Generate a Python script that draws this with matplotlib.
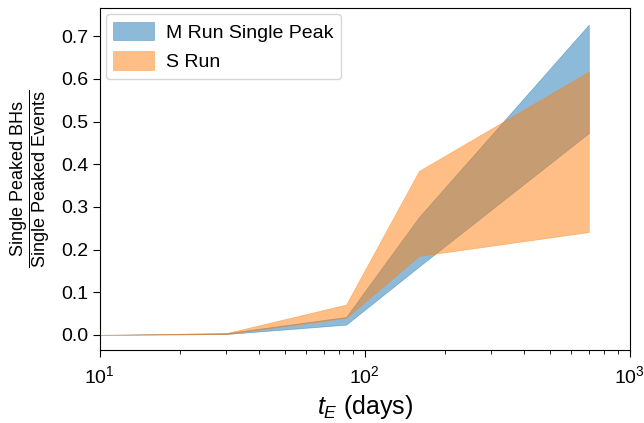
import numpy as np
import matplotlib
matplotlib.use('Agg')
import matplotlib.pyplot as plt

plt.rcParams['font.family'] = ['Liberation Sans', 'DejaVu Sans']
plt.rcParams['mathtext.fontset'] = 'custom'
plt.rcParams['mathtext.rm'] = 'Liberation Sans'
plt.rcParams['mathtext.it'] = 'Liberation Sans:italic'

# timescales (days)
t_e = [10, 30, 85, 160, 700]

# M run, single peak
m_low = [0.0, 0.002, 0.024, 0.160, 0.473]
m_high = [0.0, 0.004, 0.042, 0.276, 0.727]

# S run
s_low = [0.0, 0.002, 0.040, 0.185, 0.241]
s_high = [0.0, 0.004, 0.071, 0.384, 0.617]

fig = plt.figure(figsize=(6.44, 4.23), dpi=100)
ax = fig.add_axes([0.155, 0.173, 0.823, 0.808])

ax.fill_between(t_e, m_low, m_high, color='C0', alpha=0.5, lw=0.5, label='M Run Single Peak')
ax.fill_between(t_e, s_low, s_high, color='C1', alpha=0.5, lw=0.5, label='S Run')

ax.set_xscale('log')
ax.set_xlim(10, 1000)
ax.set_ylim(-0.035, 0.766)
ax.set_yticks(np.arange(0, 0.71, 0.1))
ax.yaxis.set_major_formatter(matplotlib.ticker.FormatStrFormatter('%.1f'))
ax.tick_params(axis='both', which='major', labelsize=14, length=5, direction='out')
ax.tick_params(axis='x', which='major', pad=6)
ax.tick_params(axis='x', which='minor', length=3)

ax.set_xlabel('$t_E$ (days)', fontsize=18)
ax.set_ylabel(r'$\dfrac{\mathrm{Single\ Peaked\ BHs}}{\mathrm{Single\ Peaked\ Events}}$', fontsize=13, labelpad=6)

ax.legend(loc='upper left', fontsize=14, handlelength=2.1, handleheight=1.1,
          borderpad=0.4, labelspacing=0.5, handletextpad=0.6, borderaxespad=0.3)

for s in ax.spines.values():
    s.set_linewidth(0.8)

plt.savefig('out.png', dpi=100)
